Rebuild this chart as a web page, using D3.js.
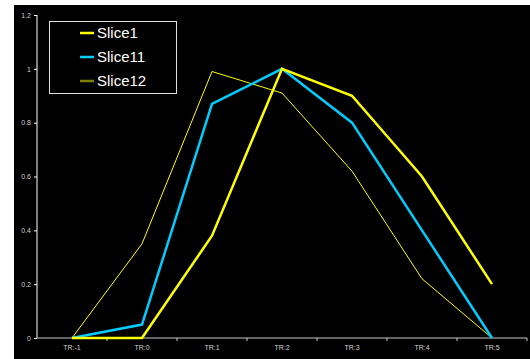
<!DOCTYPE html>
<html>
<head>
<meta charset="utf-8">
<script src="https://cdn.jsdelivr.net/npm/d3@7"></script>
<style>
  body { margin: 0; background: #ffffff; }
  svg { display: block; }
</style>
</head>
<body>
<div id="chart"></div>
<script>
// Categories and series values
const categories = ["TR:-1", "TR:0", "TR:1", "TR:2", "TR:3", "TR:4", "TR:5"];
const slice1 = [0, 0, 0.38, 1.0, 0.9, 0.6, 0.2];
const slice11 = [0, 0.05, 0.87, 1.0, 0.8, 0.4, 0];
const slice12 = [0, 0.35, 0.99, 0.91, 0.62, 0.22, 0];
const yTicks = [0, 0.2, 0.4, 0.6, 0.8, 1, 1.2];

const series = [
  { name: "Slice1", values: slice1, color: "#ffff00", width: 2.5, legendColor: "#ffff00" },
  { name: "Slice11", values: slice11, color: "#00ccff", width: 2.5, legendColor: "#00ccff" },
  { name: "Slice12", values: slice12, color: "#ffff00", width: 1, legendColor: "#808000" }
];

const width = 530, height = 359;
const plot = { left: 37, right: 527, top: 15, bottom: 338 };

const svg = d3.select("#chart").append("svg")
  .attr("width", width)
  .attr("height", height);

// black chart area
svg.append("rect")
  .attr("x", 14).attr("y", 5)
  .attr("width", width - 14).attr("height", height - 5)
  .attr("fill", "#000");

const x = d3.scaleBand().domain(categories).range([plot.left, plot.right]);
const y = d3.scaleLinear().domain([0, 1.2]).range([plot.bottom, plot.top]);

// y axis
const yAxis = svg.append("g")
  .attr("transform", `translate(${plot.left},0)`)
  .call(d3.axisLeft(y).tickValues(yTicks).tickFormat(d3.format("")).tickSize(3).tickPadding(3));
yAxis.select(".domain").attr("stroke", "#ffffff").attr("d", `M0,${plot.top}V${plot.bottom}`);
yAxis.selectAll(".tick line").attr("stroke", "#ffffff");
yAxis.selectAll(".tick text")
  .attr("fill", "#d0d0d0")
  .style("font-family", "Liberation Sans, Arial, sans-serif")
  .style("font-size", "7px");

// x axis
const xAxis = svg.append("g")
  .attr("transform", `translate(0,${plot.bottom})`)
  .call(d3.axisBottom(x).tickSize(0).tickPadding(7));
xAxis.select(".domain").attr("stroke", "#c8c8c8").attr("d", `M${plot.left},0H${plot.right}`);
xAxis.selectAll(".tick text")
  .attr("fill", "#d0d0d0")
  .style("font-family", "Liberation Sans, Arial, sans-serif")
  .style("font-size", "7px");
// tick marks at band boundaries
xAxis.selectAll(".bound")
  .data(categories.slice(1).concat(["end"]))
  .enter().append("line")
  .attr("x1", (d, i) => i < categories.length - 1 ? x(d) : plot.right)
  .attr("x2", (d, i) => i < categories.length - 1 ? x(d) : plot.right)
  .attr("y1", 0).attr("y2", 3)
  .attr("stroke", "#c8c8c8");

// lines
const line = d3.line()
  .x((d, i) => x(categories[i]) + x.bandwidth() / 2)
  .y(d => y(d));

svg.selectAll(".series")
  .data(series.slice().reverse())
  .enter().append("path")
  .attr("d", d => line(d.values))
  .attr("fill", "none")
  .attr("stroke", d => d.color)
  .attr("stroke-width", d => d.width)
  .attr("stroke-linejoin", "miter");

// legend
const legend = svg.append("g");
legend.append("rect")
  .attr("x", 49.5).attr("y", 21.5)
  .attr("width", 127).attr("height", 72)
  .attr("fill", "#000")
  .attr("stroke", "#e0e0e0")
  .attr("stroke-width", 1);

const items = legend.selectAll(".item")
  .data(series)
  .enter().append("g")
  .attr("transform", (d, i) => `translate(0,${33 + i * 24})`);
items.append("line")
  .attr("x1", 80).attr("x2", 94)
  .attr("y1", 0).attr("y2", 0)
  .attr("stroke", d => d.legendColor)
  .attr("stroke-width", 2.5);
items.append("text")
  .attr("x", 97).attr("y", 0)
  .attr("dy", "0.35em")
  .attr("fill", "#ffffff")
  .style("font-family", "Liberation Sans, Arial, sans-serif")
  .style("font-size", "15px")
  .text(d => d.name);
</script>
</body>
</html>
